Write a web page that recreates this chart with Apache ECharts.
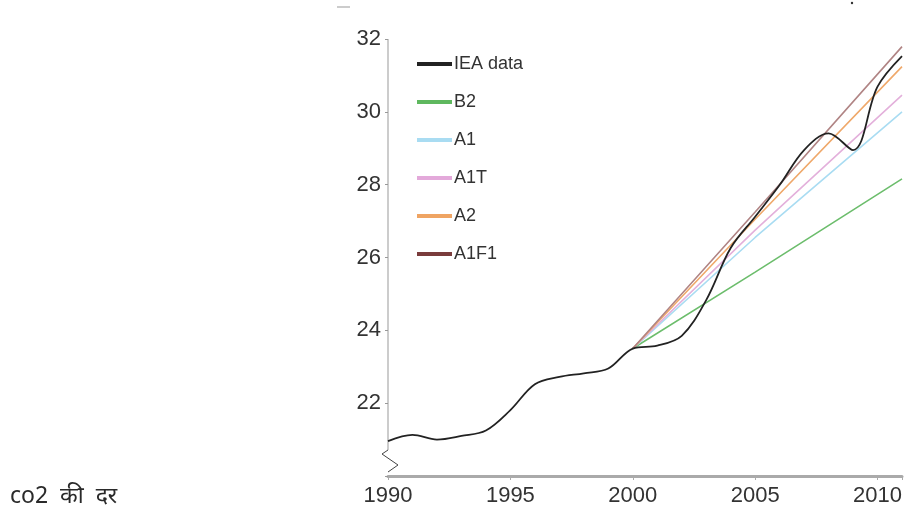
<!DOCTYPE html>
<html><head><meta charset="utf-8">
<script src="https://cdn.jsdelivr.net/npm/echarts@6/dist/echarts.min.js"></script>
<style>html,body{margin:0;padding:0;background:#fff}#c{width:905px;height:515px}</style>
</head><body><div id="c"></div>
<script>
const years = [1990,1991,1992,1993,1994,1995,1996,1997,1998,1999,2000,2001,2002,2003,2004,2005,2006,2007,2008,2009,2010,2011];
const ieaData = [20.96,21.13,21.0,21.1,21.25,21.81,22.52,22.72,22.82,22.95,23.5,23.58,23.85,24.83,26.26,27.12,27.99,28.95,29.41,28.95,30.69,31.53];
const scenarioYears = [2000,2005,2011];
const b2 = [23.5,25.6,28.16];
const a1 = [23.5,26.55,30.0];
const a1t = [23.5,26.75,30.46];
const a2 = [23.5,27.05,31.24];
const a1f1 = [23.5,27.25,31.79];
const xTickLabels = ['1990','1995','2000','2005','2010'];
const yTickLabels = ['22','24','26','28','30','32'];
const seriesNames = ['IEA data','B2','A1','A1T','A2','A1F1'];
const caption = 'co2  की  दर';

const font = '"Liberation Sans Narrow","Arial Narrow","Liberation Sans",sans-serif';
const colors = ['#222222','#5fb85f','#a9dcf2','#e3a9da','#efa463','#7a3c3c'];
const lineColors = ['#222222','#6cbd6c','#a9dcf2','#e3b0db','#efa86a','#b08484'];

function pairs(xs, ys){ return xs.map((x,i)=>[x, ys[i]]); }
const scen = [b2,a1,a1t,a2,a1f1];

const series = [];
scen.forEach((arr,i)=>{
  series.push({name: seriesNames[i+1], type:'line', data: pairs(scenarioYears, arr), smooth: false,
    showSymbol:false, symbol:'none', lineStyle:{color: lineColors[i+1], width:1.6}, itemStyle:{color: colors[i+1]}, z: 2});
});
series.push({name: seriesNames[0], type:'line', data: pairs(years, ieaData), smooth: 0.35,
  showSymbol:false, symbol:'none', lineStyle:{color: '#222', width:1.8}, itemStyle:{color: colors[0]}, z: 3});

const chart = echarts.init(document.getElementById('c'), null, {renderer:'canvas'});
chart.setOption({
  animation:false,
  backgroundColor:'#fff',
  grid:{left:388, right:0, top:39, bottom:39, containLabel:false},
  legend:{
    orient:'vertical', left:417, top:54, padding:0, itemWidth:35, itemHeight:4, itemGap:18,
    icon:'rect', data: seriesNames,
    textStyle:{fontFamily:font, fontSize:18, color:'#333', padding:[0,0,0,-3], lineHeight:20}
  },
  xAxis:{
    type:'value', min:1990, max:2011, interval:5,
    axisLine:{show:true, lineStyle:{color:'#aaa', width:3}},
    axisTick:{show:true, length:4, lineStyle:{color:'#aaa'}},
    axisLabel:{fontFamily:font, fontSize:22, color:'#333', margin:9,
      formatter: v => xTickLabels.includes(String(v)) ? String(v) : ''},
    splitLine:{show:false}
  },
  yAxis:{
    type:'value', min:20, max:32, interval:2,
    axisLine:{show:false},
    axisTick:{show:true, length:3, lineStyle:{color:'#999'}},
    axisLabel:{fontFamily:font, fontSize:22, color:'#333', margin:7,
      formatter: v => yTickLabels.includes(String(v)) ? String(v) : ''},
    splitLine:{show:false}
  },
  graphic:[
    {type:'line', shape:{x1:388,y1:39,x2:388,y2:450}, style:{stroke:'#999', lineWidth:1}},
    {type:'polyline', shape:{points:[[388,450],[382,454],[398,465],[388,472]]}, style:{stroke:'#444', lineWidth:1, fill:null}},
    {type:'line', shape:{x1:337,y1:7,x2:350,y2:7}, style:{stroke:'#bbb', lineWidth:1.5}},
    {type:'circle', shape:{cx:852,cy:3,r:1.2}, style:{fill:'#333'}},
    {type:'text', left:10, top:485, style:{text: caption, fontFamily:'"Noto Sans","Noto Sans Devanagari","Lohit Devanagari","DejaVu Sans",sans-serif', fontSize:23, fill:'#2a2a2a'}}
  ],
  series: series
});
</script></body></html>
